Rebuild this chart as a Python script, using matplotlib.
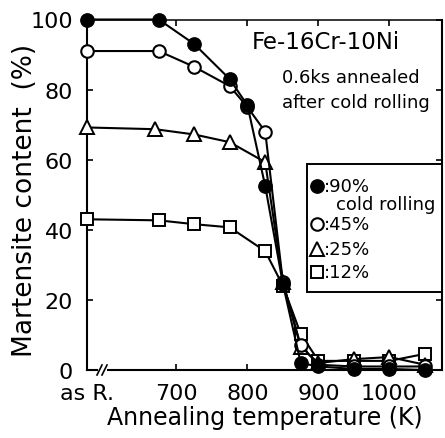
import matplotlib
matplotlib.use("Agg")
import matplotlib.pyplot as plt
from matplotlib.lines import Line2D
from matplotlib.patches import Rectangle

plt.rcParams['font.family'] = ['DejaVu Sans']

# x position used for the as-rolled state on the temperature axis
AS_ROLLED_X = 574

# Annealing temperatures (K) for each reduction
temps_90 = [AS_ROLLED_X, 675, 725, 775, 800, 825, 850, 875, 900, 950, 1000, 1050]
temps_45 = [AS_ROLLED_X, 675, 725, 775, 800, 825, 850, 875, 900, 950, 1000, 1050]
temps_25 = [AS_ROLLED_X, 670, 725, 775, 825, 850, 875, 900, 950, 1000, 1050]
temps_12 = [AS_ROLLED_X, 675, 725, 775, 825, 850, 875, 900, 950, 1000, 1050]

# Martensite content (%)
mart_90 = [100, 100, 93, 83, 75.5, 52.5, 24.5, 2, 1, 0.3, 0.3, 0]
mart_45 = [91, 91, 86.5, 81, 75, 68, 25, 7, 1.5, 1, 1, 1]
mart_25 = [69.2, 68.7, 67.2, 65, 59.3, 25, 6.5, 2, 3.1, 3.7, 1.5]
mart_12 = [43, 42.7, 41.6, 40.7, 33.9, 24, 10.3, 2.6, 2.6, 2.6, 4.6]

xtick_vals = [AS_ROLLED_X, 700, 800, 900, 1000]
xtick_labels = ['as R.', '700', '800', '900', '1000']
ytick_vals = [0, 20, 40, 60, 80, 100]

W, H = 445, 439
fig = plt.figure(figsize=(W / 100, H / 100), dpi=100)
L, R, B, T = 87, 442, 371, 20.5
ax = fig.add_axes([L / W, 1 - B / H, (R - L) / W, (B - T) / H])

ax.set_xlim(AS_ROLLED_X, 1074)
ax.set_ylim(0, 100)

lw = 1.5
styles = {
    '12': dict(marker='s', ms=8.5, mfc='white', mec='black', mew=1.4),
    '25': dict(marker='^', ms=9.5, mfc='white', mec='black', mew=1.4),
    '45': dict(marker='o', ms=9.0, mfc='white', mec='black', mew=1.5),
    '90': dict(marker='o', ms=9.6, mfc='black', mec='black', mew=1.0),
}

ax.plot(temps_12, mart_12, color='black', lw=lw, clip_on=False, zorder=3, **styles['12'])
ax.plot(temps_25, mart_25, color='black', lw=lw, clip_on=False, zorder=4, **styles['25'])
ax.plot(temps_45, mart_45, color='black', lw=lw, clip_on=False, zorder=5, **styles['45'])
ax.plot(temps_90, mart_90, color='black', lw=lw, clip_on=False, zorder=6, **styles['90'])

# axes frame and ticks
for s in ax.spines.values():
    s.set_linewidth(1.5)
    s.set_color('black')
ax.spines['top'].set_linewidth(1.1)

ax.set_xticks(xtick_vals)
ax.set_xticklabels(xtick_labels)
ax.set_yticks(ytick_vals)
ax.set_yticklabels([str(v) for v in ytick_vals])
ax.tick_params(axis='both', direction='in', length=4, width=1.2,
               top=True, right=True, labelsize=16, colors='black')
ax.tick_params(axis='x', pad=9)
ax.tick_params(axis='y', pad=10)

# axis break on the temperature axis
px = lambda x: (x - L) / (R - L)
py = lambda y: (B - y) / (B - T)
ax.add_patch(Rectangle((px(98), py(373)), px(107) - px(98), py(369) - py(373),
                       transform=ax.transAxes, facecolor='white', edgecolor='none',
                       clip_on=False, zorder=7))
for x0 in (97, 102):
    ax.add_line(Line2D([px(x0), px(x0 + 5)], [py(376), py(366)], transform=ax.transAxes,
                       color='black', lw=1.2, clip_on=False, zorder=8))

# axis titles
fig.text(265 / W, 1 - 418 / H, 'Annealing temperature (K)', ha='center', va='center',
         fontsize=17)
fig.text(25 / W, 1 - 200 / H, 'Martensite content  (%)', ha='center', va='center',
         rotation=90, fontsize=19)

# annotations
ax.text(px(252), py(43), 'Fe-16Cr-10Ni', transform=ax.transAxes, ha='left', va='center',
        fontsize=16.5)
ax.text(px(282), py(78), '0.6ks annealed', transform=ax.transAxes, ha='left', va='center',
        fontsize=13)
ax.text(px(282), py(103), 'after cold rolling', transform=ax.transAxes, ha='left',
        va='center', fontsize=13)

# legend box
ax.add_patch(Rectangle((px(307), py(293)), 1 - px(307), py(165) - py(293),
                       transform=ax.transAxes, facecolor='white', edgecolor='black',
                       lw=1.4, zorder=9, clip_on=False))
legend_rows = [('90', ':90%', 187), ('45', ':45%', 225), ('25', ':25%', 250), ('12', ':12%', 273)]
for key, label, y in legend_rows:
    ax.add_line(Line2D([px(317)], [py(y)], transform=ax.transAxes, linestyle='none',
                       zorder=10, clip_on=False, **styles[key]))
    ax.text(px(324), py(y), label, transform=ax.transAxes, ha='left', va='center',
            fontsize=13, zorder=10)
ax.text(px(336), py(205), 'cold rolling', transform=ax.transAxes, ha='left', va='center',
        fontsize=13, zorder=10)

fig.savefig('out.png', dpi=100)
